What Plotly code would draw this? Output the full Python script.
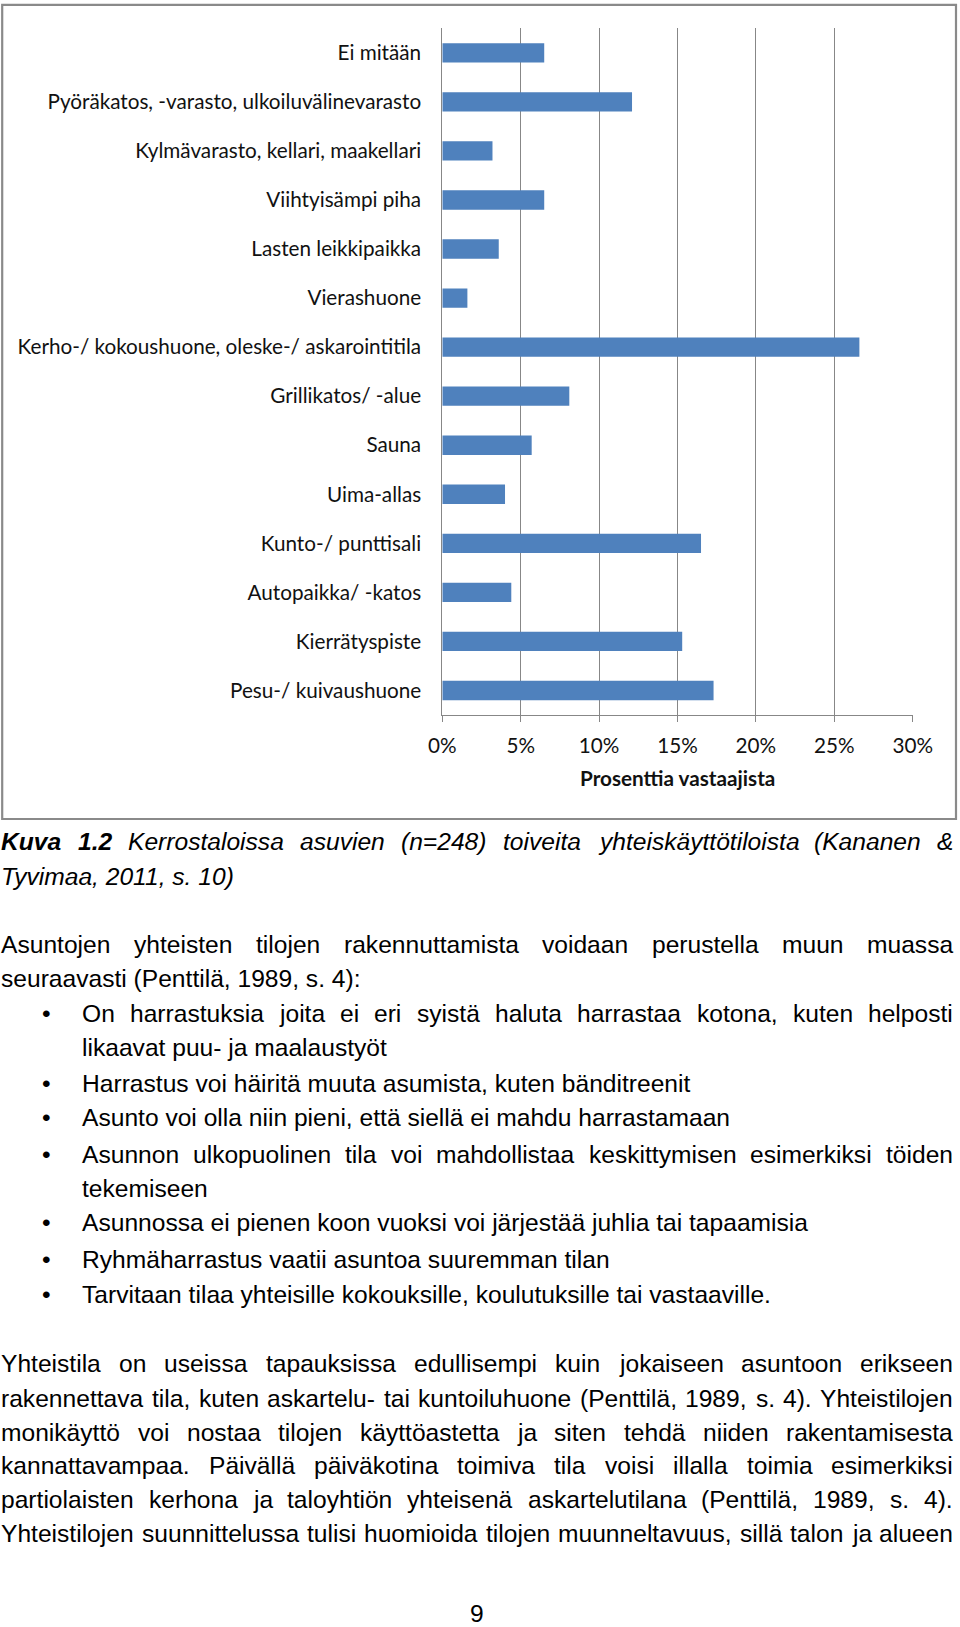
import plotly.graph_objects as go

# ---------------- chart data ----------------
categories = [
    "Ei mitään",
    "Pyöräkatos, -varasto, ulkoiluvälinevarasto",
    "Kylmävarasto, kellari, maakellari",
    "Viihtyisämpi piha",
    "Lasten leikkipaikka",
    "Vierashuone",
    "Kerho-/ kokoushuone, oleske-/ askarointitila",
    "Grillikatos/ -alue",
    "Sauna",
    "Uima-allas",
    "Kunto-/ punttisali",
    "Autopaikka/ -katos",
    "Kierrätyspiste",
    "Pesu-/ kuivaushuone",
]
values = [6.5, 12.1, 3.2, 6.5, 3.6, 1.6, 26.6, 8.1, 5.7, 4.0, 16.5, 4.4, 15.3, 17.3]
tick_values = [0, 5, 10, 15, 20, 25, 30]
tick_labels = ["0%", "5%", "10%", "15%", "20%", "25%", "30%"]
axis_title = "Prosenttia vastaajista"

# ---------------- page text ----------------
caption_lines = [
    "Kuva 1.2 Kerrostaloissa asuvien (n=248) toiveita yhteiskäyttötiloista (Kananen &",
    "Tyvimaa, 2011, s. 10)",
]
para1_lines = [
    "Asuntojen yhteisten tilojen rakennuttamista voidaan perustella muun muassa",
    "seuraavasti (Penttilä, 1989, s. 4):",
]
bullet_items = [
    ["On harrastuksia joita ei eri syistä haluta harrastaa kotona, kuten helposti",
     "likaavat puu- ja maalaustyöt"],
    ["Harrastus voi häiritä muuta asumista, kuten bänditreenit"],
    ["Asunto voi olla niin pieni, että siellä ei mahdu harrastamaan"],
    ["Asunnon ulkopuolinen tila voi mahdollistaa keskittymisen esimerkiksi töiden",
     "tekemiseen"],
    ["Asunnossa ei pienen koon vuoksi voi järjestää juhlia tai tapaamisia"],
    ["Ryhmäharrastus vaatii asuntoa suuremman tilan"],
    ["Tarvitaan tilaa yhteisille kokouksille, koulutuksille tai vastaaville."],
]
para2_lines = [
    "Yhteistila on useissa tapauksissa edullisempi kuin jokaiseen asuntoon erikseen",
    "rakennettava tila, kuten askartelu- tai kuntoiluhuone (Penttilä, 1989, s. 4). Yhteistilojen",
    "monikäyttö voi nostaa tilojen käyttöastetta ja siten tehdä niiden rakentamisesta",
    "kannattavampaa. Päivällä päiväkotina toimiva tila voisi illalla toimia esimerkiksi",
    "partiolaisten kerhona ja taloyhtiön yhteisenä askartelutilana (Penttilä, 1989, s. 4).",
    "Yhteistilojen suunnittelussa tulisi huomioida tilojen muunneltavuus, sillä talon ja alueen",
]
page_number = "9"

W, H = 960, 1627
BODY_FONT = "Liberation Sans, Arial, sans-serif"
BODY_SIZE = 24.6
CHART_FONT = "Lato, Carlito, Calibri, sans-serif"
CHART_SIZE = 20.7

# Arial advance widths (per 1000 em)
AW = {' ': 278, ',': 278, '.': 278, '-': 333, '/': 278, ':': 278, '(': 333, ')': 333,
      '&': 667, '=': 584, '%': 889}
for c in '0123456789':
    AW[c] = 556
AW.update(dict(A=667, B=667, C=722, D=722, E=667, F=611, G=778, H=722, I=278, J=500,
               K=667, L=556, M=833, N=722, O=778, P=667, Q=778, R=722, S=667, T=611,
               U=722, V=667, W=944, X=667, Y=667, Z=611))
AW.update(dict(a=556, b=556, c=500, d=556, e=556, f=278, g=556, h=556, i=222, j=222,
               k=500, l=222, m=833, n=556, o=556, p=556, q=556, r=333, s=500, t=278,
               u=556, v=500, w=722, x=500, y=500, z=500))
AW.update({'ä': 556, 'ö': 556, 'Ä': 667, 'Ö': 778, 'å': 556})
AWB = dict(AW)
AWB.update(dict(K=722, u=611, v=556, a=556))


def twidth(s, size, bold=False):
    tab = AWB if bold else AW
    return sum(tab.get(c, 556) for c in s) * size / 1000.0


fig = go.Figure()

fig.add_trace(go.Bar(
    x=values, y=categories, orientation="h",
    marker=dict(color="#4F81BD", line=dict(width=0)),
    width=0.395, hoverinfo="x+y",
))

X0, X1 = 442.3, 912.7
YT, YB = 28.3, 715.0
GRID = "#878787"

fig.update_layout(
    width=W, height=H,
    margin=dict(l=0, r=0, t=0, b=0, pad=0, autoexpand=False),
    paper_bgcolor="white", plot_bgcolor="white",
    showlegend=False,
    xaxis=dict(
        domain=[X0 / W, X1 / W], range=[0, 30], automargin=False,
        tickvals=tick_values, ticktext=tick_labels,
        showgrid=True, gridcolor=GRID, gridwidth=1, zeroline=False,
        showline=True, linecolor=GRID, linewidth=1,
        ticks="outside", ticklen=6, tickcolor=GRID, tickwidth=1,
        tickfont=dict(family=CHART_FONT, size=CHART_SIZE, color="#111"),
        ticklabelstandoff=6,
        fixedrange=True,
    ),
    yaxis=dict(
        domain=[1 - YB / H, 1 - YT / H], automargin=False,
        autorange="reversed",
        showgrid=False, zeroline=False,
        showline=True, linecolor=GRID, linewidth=1,
        ticks="", ticklabelstandoff=16,
        tickfont=dict(family=CHART_FONT, size=CHART_SIZE, color="#111"),
        fixedrange=True,
    ),
)

ann = []
ann.append(dict(text="<b>" + axis_title + "</b>", x=(X0 + X1) / 2 / W, y=1 - 778 / H,
                xref="paper", yref="paper", showarrow=False, xanchor="center", yanchor="middle",
                font=dict(family=CHART_FONT, size=CHART_SIZE, color="#111")))

# chart frame
fig.add_shape(type="rect", xref="paper", yref="paper",
              x0=2.2 / W, x1=956.0 / W, y0=1 - 819.0 / H, y1=1 - 4.9 / H,
              line=dict(color="#8a8a8a", width=2.2))


def word_ann(text, xpx, ypx, anchor="left", italic=False, bold=False):
    t = text
    if bold:
        t = "<b>" + t + "</b>"
    if italic:
        t = "<i>" + t + "</i>"
    return dict(text=t, x=xpx / W, y=1 - ypx / H, xref="paper", yref="paper",
                showarrow=False, xanchor=anchor, yanchor="middle",
                borderpad=0, borderwidth=0,
                font=dict(family=BODY_FONT, size=BODY_SIZE, color="black"))


def add_line(text, ypx, left, right, justify, italic=False, nbold=0):
    if not justify:
        if nbold:
            words = text.split(" ")
            t = "<b>" + " ".join(words[:nbold]) + "</b> " + " ".join(words[nbold:])
            ann.append(word_ann(t, left, ypx, italic=italic))
        else:
            ann.append(word_ann(text, left, ypx, italic=italic))
        return
    words = text.split(" ")
    widths = [twidth(w, BODY_SIZE, bold=(i < nbold)) for i, w in enumerate(words)]
    gap = (right - left - sum(widths)) / (len(words) - 1)
    x = left
    for i, w in enumerate(words):
        if i == len(words) - 1:
            ann.append(word_ann(w, right, ypx, anchor="right", italic=italic, bold=(i < nbold)))
        else:
            ann.append(word_ann(w, x, ypx, italic=italic, bold=(i < nbold)))
        x += widths[i] + gap


LEFT, RIGHT, INDENT, BULLET_X = 1.0, 953.0, 82.0, 46.7

add_line(caption_lines[0], 841.5, LEFT, RIGHT, True, italic=True, nbold=2)
add_line(caption_lines[1], 876.5, LEFT, RIGHT, False, italic=True)

add_line(para1_lines[0], 944.0, LEFT, RIGHT, True)
add_line(para1_lines[1], 978.3, LEFT, RIGHT, False)

bullet_ys = [[1013.3, 1047.7], [1083.0], [1117.7], [1154.0, 1188.3], [1222.5], [1259.0], [1294.0]]
for item, ys in zip(bullet_items, bullet_ys):
    ann.append(dict(text="•", x=BULLET_X / W, y=1 - ys[0] / H, xref="paper", yref="paper",
                    showarrow=False, xanchor="center", yanchor="middle",
                    font=dict(family=BODY_FONT, size=BODY_SIZE, color="black")))
    for k, (line, yy) in enumerate(zip(item, ys)):
        add_line(line, yy, INDENT, RIGHT, justify=(k < len(item) - 1))

p2_ys = [1363.3, 1398.3, 1432.7, 1465.5, 1499.3, 1533.3]
for line, yy in zip(para2_lines, p2_ys):
    add_line(line, yy, LEFT, RIGHT, True)

ann.append(dict(text=page_number, x=476.7 / W, y=1 - 1613 / H, xref="paper", yref="paper",
                showarrow=False, xanchor="center", yanchor="middle",
                font=dict(family=BODY_FONT, size=BODY_SIZE, color="black")))

fig.update_layout(annotations=ann)
fig.write_html(
    "out.html",
    config={"displayModeBar": False},
    post_script="document.body.style.margin='0px';document.body.style.overflow='hidden';",
)
